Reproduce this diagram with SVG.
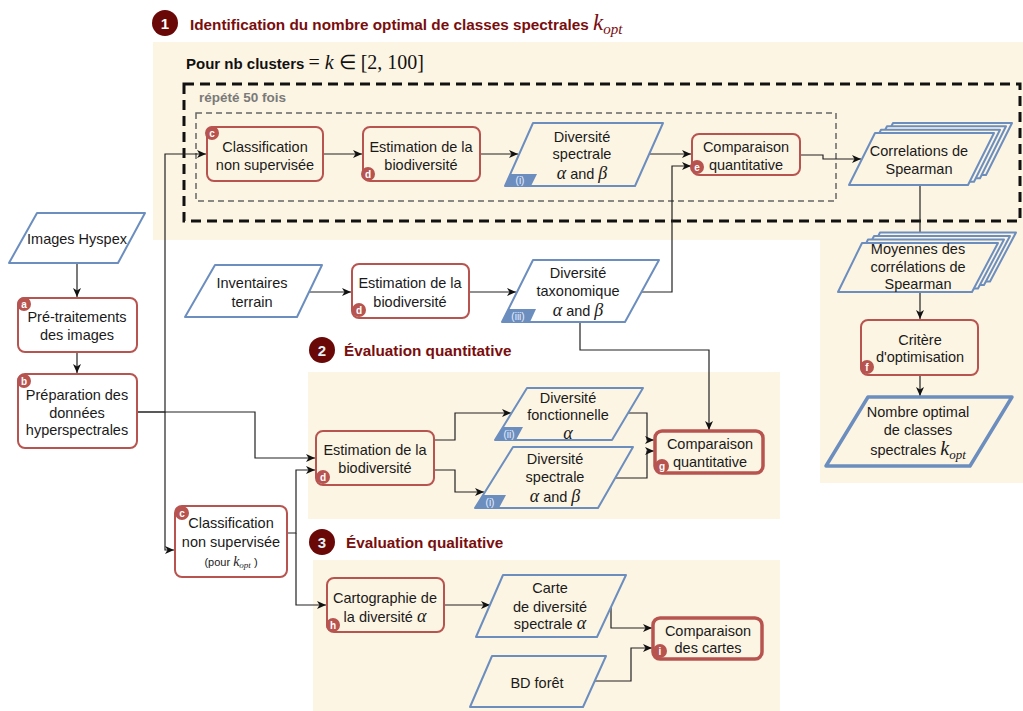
<svg xmlns="http://www.w3.org/2000/svg" width="1023" height="711" viewBox="0 0 1023 711">
<style>
.bg{fill:#fdf5e3;stroke:none}
.rbox{fill:none;stroke:#b85450;stroke-width:2}
.rthick{fill:none;stroke:#b85450;stroke-width:3.5}
.para{fill:none;stroke:#6c8ebf;stroke-width:2;stroke-linejoin:round}
.stk{fill:#fdf5e3;stroke:#6c8ebf;stroke-width:2;stroke-linejoin:round}
.pthick{fill:none;stroke:#6c8ebf;stroke-width:3.5;stroke-linejoin:round}
.t{font-family:"Liberation Sans",Arial,sans-serif;font-size:14.5px;fill:#1a1a1a;text-anchor:middle}
.m{font-family:"Liberation Serif","DejaVu Serif",serif;font-style:italic}
.ttl{font-family:"Liberation Sans",Arial,sans-serif;font-size:15.3px;font-weight:bold;fill:#7a0d0d}
.num{font-family:"Liberation Sans",Arial,sans-serif;font-size:15px;font-weight:bold;fill:#e0f4f8;text-anchor:middle}
.bdg{fill:#b85450}
.bt{font-family:"Liberation Sans",Arial,sans-serif;font-size:10px;font-weight:bold;fill:#fff;text-anchor:middle}
.tab{fill:#6c8ebf}
.tt{font-family:"Liberation Sans",Arial,sans-serif;font-size:10px;fill:#e6efff;text-anchor:middle}
.c{fill:none;stroke:#222;stroke-width:1.2}
.ca{fill:none;stroke:#222;stroke-width:1.2;marker-end:url(#arr)}
</style>
<defs>
<marker id="arr" markerUnits="userSpaceOnUse" markerWidth="10" markerHeight="8" refX="9" refY="4" orient="auto">
<path d="M0,0 L9,4 L0,8 L2.5,4 z" fill="#111"/>
</marker>
</defs>
<rect width="1023" height="711" fill="#ffffff"/>
<g id="panels">
<path class="bg" d="M153,42 H1023 V483 H820 V240 H153 Z"/>
<rect class="bg" x="308" y="372" width="472" height="147"/>
<rect class="bg" x="313" y="560" width="467" height="151"/>
<rect x="184" y="84" width="836" height="137" fill="none" stroke="#111" stroke-width="3" stroke-dasharray="10,6"/>
<rect x="196" y="113" width="640" height="88" fill="none" stroke="#666" stroke-width="1.5" stroke-dasharray="6,4"/>
<text x="199" y="102" style="font-family:'Liberation Sans',Arial,sans-serif;font-size:13.5px;font-weight:bold;fill:#7a7a7a">répété 50 fois</text>
<text x="186" y="69" style="font-family:'Liberation Sans',Arial,sans-serif;font-size:15px;font-weight:bold;fill:#111">Pour nb clusters <tspan style="font-family:'Liberation Serif',serif;font-weight:normal;font-size:20px">= <tspan font-style="italic">k</tspan> ∈ [2, 100]</tspan></text>
</g>
<g id="titles">
<circle cx="165" cy="23" r="13" fill="#6a0707"/>
<text class="num" x="165" y="29" style="fill:#ffffff">1</text>
<text class="ttl" x="190" y="30">Identification du nombre optimal de classes spectrales <tspan class="m" style="font-weight:normal;font-size:23px">k</tspan><tspan class="m" style="font-weight:normal;font-size:15px" dy="4">opt</tspan></text>
<circle cx="322" cy="350" r="13" fill="#6a0707"/>
<text class="num" x="322" y="356">2</text>
<text class="ttl" x="344" y="356">Évaluation quantitative</text>
<circle cx="322" cy="542" r="13" fill="#6a0707"/>
<text class="num" x="322" y="548">3</text>
<text class="ttl" x="346" y="548">Évaluation qualitative</text>
</g>
<g id="connectors">
<path class="ca" d="M77,263 V297"/>
<path class="ca" d="M77,352 V373"/>
<path class="ca" d="M137,412 H165 V154 H206"/>
<path class="ca" d="M165,412 V550 H174"/>
<path class="ca" d="M137,412 H255 V458 H315"/>
<path class="ca" d="M323,154 H362"/>
<path class="ca" d="M480,154 H518"/>
<path class="ca" d="M649,154 H691"/>
<path class="ca" d="M800,155 H823 V159 H861"/>
<path class="c" d="M920,185 V240"/>
<path class="ca" d="M920,292 V319"/>
<path class="ca" d="M920,375 V396"/>
<path class="ca" d="M309,292 H351"/>
<path class="ca" d="M469,292 H516"/>
<path class="ca" d="M641,292 H672 V166 H691"/>
<path class="ca" d="M580,322 V350 H709 V430"/>
<path class="ca" d="M434,440 H455 V413 H511"/>
<path class="ca" d="M434,470 H455 V492 H484"/>
<path class="ca" d="M628,413 H647 V440 H654"/>
<path class="ca" d="M615,478 H647 V451 H654"/>
<path class="ca" d="M287,533 H296 V470 H315"/>
<path class="ca" d="M296,533 V605 H326"/>
<path class="ca" d="M444,605 H490"/>
<path class="ca" d="M611,607 V628 H652"/>
<path class="ca" d="M595,681 H631 V648 H652"/>
</g>
<g id="images-hyspex">
<path class="para" d="M37,213 H145 L118,263 H9 Z"/>
<text class="t" x="77" y="244">Images Hyspex</text>
</g>
<g id="pretraitements">
<rect class="rbox" x="18" y="298" width="119" height="54" rx="7"/>
<circle class="bdg" cx="24" cy="304" r="7"/><text class="bt" x="24" y="308">a</text>
<text class="t" x="77" y="322">Pré-traitements</text>
<text class="t" x="77" y="340">des images</text>
</g>
<g id="preparation">
<rect class="rbox" x="18" y="374" width="119" height="74" rx="7"/>
<circle class="bdg" cx="24" cy="381" r="7"/><text class="bt" x="24" y="385">b</text>
<text class="t" x="77" y="400">Préparation des</text>
<text class="t" x="77" y="418">données</text>
<text class="t" x="77" y="435">hyperspectrales</text>
</g>
<g id="classification-1">
<rect class="rbox" x="207" y="127" width="116" height="54" rx="7"/>
<circle class="bdg" cx="212" cy="133" r="7"/><text class="bt" x="212" y="137">c</text>
<text class="t" x="265" y="152">Classification</text>
<text class="t" x="265" y="170">non supervisée</text>
</g>
<g id="estimation-1">
<rect class="rbox" x="363" y="127" width="117" height="54" rx="7"/>
<circle class="bdg" cx="368" cy="174" r="7"/><text class="bt" x="368" y="178">d</text>
<text class="t" x="421" y="152">Estimation de la</text>
<text class="t" x="421" y="170">biodiversité</text>
</g>
<g id="div-spectrale-1">
<path class="para" d="M533,123 H663 L635,186 H505 Z"/>
<path class="tab" d="M505,186 L510.5,174 H537 L531,186 Z"/>
<text class="tt" x="520" y="184">(i)</text>
<text class="t" x="582" y="142">Diversité</text>
<text class="t" x="582" y="159">spectrale</text>
<text class="t" x="582" y="179"><tspan class="m" font-size="18px">α</tspan> and <tspan class="m" font-size="18px">β</tspan></text>
</g>
<g id="comparaison-e">
<rect class="rbox" x="692" y="134" width="108" height="41" rx="7"/>
<circle class="bdg" cx="697" cy="167" r="7"/><text class="bt" x="697" y="171">e</text>
<text class="t" x="746" y="152">Comparaison</text>
<text class="t" x="746" y="170">quantitative</text>
</g>
<g id="correlations">
<path class="stk" d="M893,123 H1012 L986,175 H867 Z"/>
<path class="stk" d="M887,126.3 H1006 L980,178.3 H861 Z"/>
<path class="stk" d="M881,129.7 H1000 L974,181.7 H855 Z"/>
<path class="stk" d="M875,133 H994 L968,185 H849 Z"/>
<text class="t" x="919" y="156">Correlations de</text>
<text class="t" x="919" y="174">Spearman</text>
</g>
<g id="moyennes">
<path class="stk" d="M880,232.5 H1016 L990,281.5 H856 Z"/>
<path class="stk" d="M874,236 H1010 L984,285 H850 Z"/>
<path class="stk" d="M868,239.5 H1004 L978,288.5 H844 Z"/>
<path class="stk" d="M862,243 H998 L972,292 H838 Z"/>
<text class="t" x="918" y="254">Moyennes des</text>
<text class="t" x="918" y="272">corrélations de</text>
<text class="t" x="918" y="289">Spearman</text>
</g>
<g id="critere">
<rect class="rbox" x="861" y="320" width="117" height="55" rx="7"/>
<circle class="bdg" cx="867" cy="367" r="7"/><text class="bt" x="867" y="371">f</text>
<text class="t" x="920" y="345">Critère</text>
<text class="t" x="920" y="362">d'optimisation</text>
</g>
<g id="nombre-optimal">
<path class="pthick" d="M868,397 H1012 L970,466 H826 Z"/>
<text class="t" x="918" y="417">Nombre optimal</text>
<text class="t" x="918" y="435">de classes</text>
<text class="t" x="918" y="455">spectrales <tspan class="m" font-size="20px">k</tspan><tspan class="m" font-size="13px" dy="4">opt</tspan></text>
</g>
<g id="inventaires">
<path class="para" d="M215,265 H322 L297,317 H185 Z"/>
<text class="t" x="252" y="288">Inventaires</text>
<text class="t" x="252" y="307">terrain</text>
</g>
<g id="estimation-2">
<rect class="rbox" x="352" y="264" width="117" height="54" rx="7"/>
<circle class="bdg" cx="359" cy="310" r="7"/><text class="bt" x="359" y="314">d</text>
<text class="t" x="410" y="288">Estimation de la</text>
<text class="t" x="410" y="307">biodiversité</text>
</g>
<g id="div-taxonomique">
<path class="para" d="M533,260 H659 L625,322 H502 Z"/>
<path class="tab" d="M502,322 L508.5,309 H536 L530,322 Z"/>
<text class="tt" x="518" y="319.5">(iii)</text>
<text class="t" x="578" y="278">Diversité</text>
<text class="t" x="578" y="296">taxonomique</text>
<text class="t" x="578" y="316"><tspan class="m" font-size="18px">α</tspan> and <tspan class="m" font-size="18px">β</tspan></text>
</g>
<g id="estimation-3">
<rect class="rbox" x="316" y="431" width="118" height="54" rx="7"/>
<circle class="bdg" cx="323" cy="477" r="7"/><text class="bt" x="323" y="481">d</text>
<text class="t" x="375" y="455">Estimation de la</text>
<text class="t" x="375" y="473">biodiversité</text>
</g>
<g id="div-fonctionnelle">
<path class="para" d="M527,388 H643 L612,440 H495 Z"/>
<path class="tab" d="M495,440 L503,427 H523 L516,440 Z"/>
<text class="tt" x="509" y="437.5">(ii)</text>
<text class="t" x="568" y="403">Diversité</text>
<text class="t" x="568" y="420">fonctionnelle</text>
<text class="t" x="568" y="439"><tspan class="m" font-size="18px">α</tspan></text>
</g>
<g id="div-spectrale-2">
<path class="para" d="M513,447 H633 L598,508 H475 Z"/>
<path class="tab" d="M475,508 L483,495 H506 L499,508 Z"/>
<text class="tt" x="490" y="505.5">(i)</text>
<text class="t" x="555" y="464">Diversité</text>
<text class="t" x="555" y="482">spectrale</text>
<text class="t" x="555" y="502"><tspan class="m" font-size="18px">α</tspan> and <tspan class="m" font-size="18px">β</tspan></text>
</g>
<g id="comparaison-g">
<rect class="rthick" x="655" y="431" width="108" height="42" rx="7"/>
<circle class="bdg" cx="662" cy="466" r="7"/><text class="bt" x="662" y="470">g</text>
<text class="t" x="710" y="449">Comparaison</text>
<text class="t" x="710" y="467">quantitative</text>
</g>
<g id="classification-kopt">
<rect class="rbox" x="175" y="506" width="112" height="71" rx="7"/>
<circle class="bdg" cx="182" cy="513" r="7"/><text class="bt" x="182" y="517">c</text>
<text class="t" x="231" y="528">Classification</text>
<text class="t" x="231" y="547">non supervisée</text>
<text class="t" x="231" y="566" style="font-size:11px">(pour <tspan class="m" font-size="14px">k</tspan><tspan class="m" font-size="9px" dy="2">opt</tspan><tspan dy="-2"> )</tspan></text>
</g>
<g id="cartographie">
<rect class="rbox" x="327" y="578" width="117" height="54" rx="7"/>
<circle class="bdg" cx="333" cy="625" r="7"/><text class="bt" x="333" y="629">h</text>
<text class="t" x="385" y="603">Cartographie de</text>
<text class="t" x="385" y="622">la diversité <tspan class="m" font-size="18px">α</tspan></text>
</g>
<g id="carte">
<path class="para" d="M503,575 H626 L597,637 H476 Z"/>
<text class="t" x="550" y="593">Carte</text>
<text class="t" x="550" y="612">de diversité</text>
<text class="t" x="550" y="629">spectrale <tspan class="m" font-size="18px">α</tspan></text>
</g>
<g id="bd-foret">
<path class="para" d="M492,656 H606 L583,707 H470 Z"/>
<text class="t" x="537" y="688">BD forêt</text>
</g>
<g id="comparaison-cartes">
<rect class="rthick" x="653" y="618" width="109" height="41" rx="7"/>
<circle class="bdg" cx="660" cy="651" r="7"/><text class="bt" x="660" y="655">i</text>
<text class="t" x="708" y="636">Comparaison</text>
<text class="t" x="708" y="653">des cartes</text>
</g>
</svg>
